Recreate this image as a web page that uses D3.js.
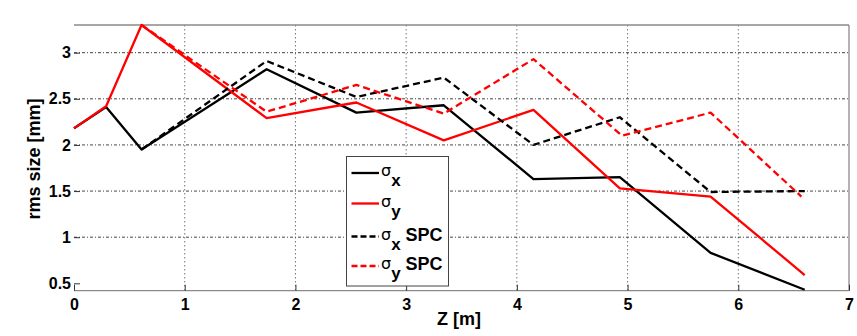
<!DOCTYPE html>
<html>
<head>
<meta charset="utf-8">
<script src="https://cdn.jsdelivr.net/npm/d3@7"></script>
<style>
  html, body { margin: 0; padding: 0; background: #fff; }
  svg { display: block; }
  text { font-family: "Liberation Sans", Arial, Helvetica, sans-serif; font-weight: bold; fill: #000; }
</style>
</head>
<body>
<svg id="chart" width="857" height="336"></svg>
<script>
// Beam rms size along the line, measured vs. space-charge (SPC) simulation
const zPos      = [0, 0.29, 0.61, 1.74, 2.55, 3.34, 4.15, 4.93, 5.75, 6.6];
const sigmaX    = [2.18, 2.41, 1.95, 2.82, 2.35, 2.43, 1.63, 1.65, 0.83, 0.43];
const sigmaY    = [2.18, 2.42, 3.30, 2.29, 2.46, 2.05, 2.38, 1.53, 1.44, 0.59];
const zPosSpc   = [0.61, 1.74, 2.55, 3.34, 4.15, 4.93, 5.75, 6.6];
const sigmaXSpc = [1.95, 2.91, 2.52, 2.73, 2.00, 2.30, 1.49, 1.50];
const zPosSpcY  = [0.61, 1.74, 2.55, 3.34, 4.15, 4.95, 5.75, 6.57];
const sigmaYSpc = [3.30, 2.36, 2.65, 2.34, 2.93, 2.10, 2.35, 1.44];

const xTicks = [0, 1, 2, 3, 4, 5, 6, 7];
const yTicks = [0.5, 1, 1.5, 2, 2.5, 3];
const yGrid  = [1, 1.5, 2, 2.5, 3];

const series = [
  { label: "x", spc: false, color: "#000", dash: null, xs: zPos, ys: sigmaX },
  { label: "y", spc: false, color: "#ff0000", dash: null, xs: zPos, ys: sigmaY },
  { label: "x", spc: true, color: "#000", dash: "7,4", xs: zPosSpc, ys: sigmaXSpc },
  { label: "y", spc: true, color: "#ff0000", dash: "7,4", xs: zPosSpcY, ys: sigmaYSpc }
];

const svg = d3.select("#chart");
const mLeft = 74, mRight = 849, mTop = 25, mBottom = 290.7;

const x = d3.scaleLinear().domain([0, 7]).range([mLeft, mRight]);
const y = d3.scaleLinear().domain([0.42, 3.3]).range([mBottom, mTop]);

// grid
const grid = svg.append("g");
grid.selectAll("line.vg").data(xTicks.slice(1, -1)).enter().append("line")
  .attr("x1", d => x(d)).attr("x2", d => x(d))
  .attr("y1", mTop).attr("y2", mBottom)
  .attr("stroke", "#777").attr("stroke-width", 1).attr("stroke-dasharray", "1.5,2.5");
grid.selectAll("line.hg").data(yGrid).enter().append("line")
  .attr("x1", mLeft).attr("x2", mRight)
  .attr("y1", d => y(d)).attr("y2", d => y(d))
  .attr("stroke", "#444").attr("stroke-width", 1).attr("stroke-dasharray", "3,2,1,2");

// axes box (top, right, bottom)
const box = svg.append("g").attr("stroke", "#8a8a8a").attr("stroke-width", 1.3);
box.append("line").attr("x1", mLeft).attr("x2", mRight).attr("y1", mTop).attr("y2", mTop);
box.append("line").attr("x1", mRight).attr("x2", mRight).attr("y1", mTop).attr("y2", mBottom);
box.append("line").attr("x1", mLeft).attr("x2", mRight).attr("y1", mBottom).attr("y2", mBottom);

// axes with inward ticks
const xAxis = d3.axisBottom(x).tickValues(xTicks).tickFormat(d3.format("d")).tickSize(-6).tickPadding(8);
const gx = svg.append("g").attr("transform", `translate(0,${mBottom})`).call(xAxis);
gx.select(".domain").remove();
gx.selectAll(".tick line").attr("stroke", "#333");
gx.selectAll(".tick text").style("font-size", "16px").attr("dy", "0.71em");

const yAxis = d3.axisLeft(y).tickValues(yTicks).tickFormat(d => String(d)).tickSize(-6).tickPadding(3);
const gy = svg.append("g").attr("transform", `translate(${mLeft},0)`).call(yAxis);
gy.select(".domain").remove();
gy.selectAll(".tick line").attr("stroke", "#333");
gy.selectAll(".tick text").style("font-size", "16px");

// axis labels
svg.append("text").attr("x", 459).attr("y", 325).attr("text-anchor", "middle")
  .style("font-size", "18px").text("Z [m]");
svg.append("text").attr("transform", "translate(40,159) rotate(-90)").attr("text-anchor", "middle")
  .style("font-size", "18px").text("rms size [mm]");

// curves
const plot = svg.append("g");
const lineGen = d3.line().x(d => x(d[0])).y(d => y(d[1]));
series.forEach(s => {
  const pts = s.xs.map((v, i) => [v, s.ys[i]]);
  plot.append("path").datum(pts).attr("d", lineGen)
    .attr("fill", "none").attr("stroke", s.color).attr("stroke-width", 2.3)
    .attr("stroke-linejoin", "round")
    .attr("stroke-dasharray", s.dash);
});

// legend
const lg = svg.append("g");
lg.append("rect").attr("x", 346.5).attr("y", 156.5).attr("width", 102).attr("height", 129.5)
  .attr("fill", "#fff").attr("stroke", "#444").attr("stroke-width", 1);
const rowY = [173, 203.5, 236.5, 266];
series.forEach((s, i) => {
  const ry = rowY[i];
  lg.append("line").attr("x1", 351.5).attr("x2", 379).attr("y1", ry).attr("y2", ry)
    .attr("stroke", s.color).attr("stroke-width", 2.3).attr("stroke-dasharray", s.dash ? "6,3" : null);
  const t = lg.append("text").attr("x", 381).attr("y", ry + 3).style("font-size", "17px");
  t.append("tspan").style("font-weight", "normal").style("font-family", "'DejaVu Sans', sans-serif")
    .style("font-size", "16px").text("σ");
  t.append("tspan").attr("dy", 10).style("font-size", "17px").text(s.label);
  if (s.spc) t.append("tspan").attr("dy", -9).attr("dx", 5).style("font-size", "18px").text("SPC");
});
</script>
</body>
</html>
